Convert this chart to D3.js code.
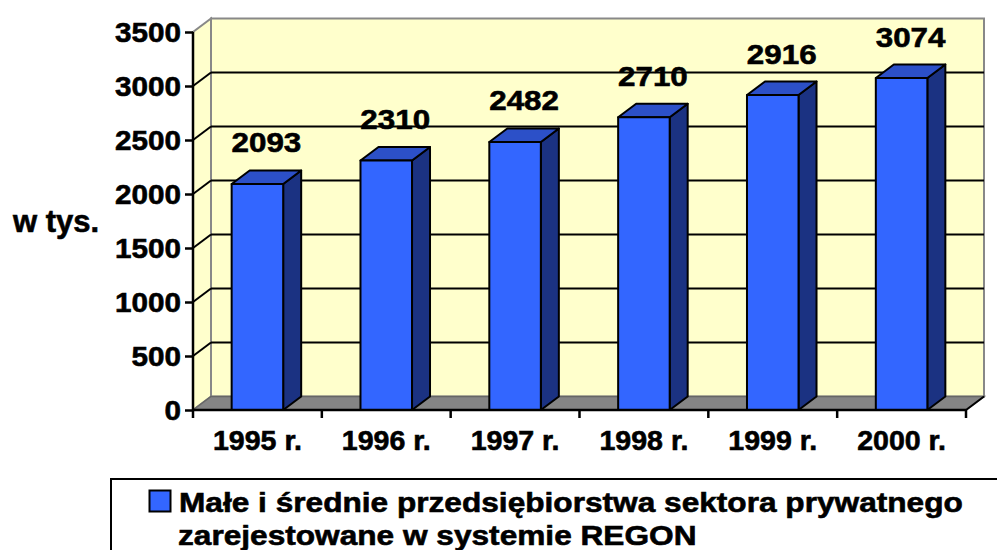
<!DOCTYPE html>
<html><head><meta charset="utf-8">
<script src="https://cdn.jsdelivr.net/npm/d3@7"></script>
<style>body{margin:0;background:#fff}svg{display:block}text{font-family:"Liberation Sans",Arial,sans-serif;font-weight:bold;fill:#000;stroke:#000;stroke-width:0.6px}</style>
</head><body><svg id="c" width="997" height="550"></svg>
<script>
const categories = ["1995 r.","1996 r.","1997 r.","1998 r.","1999 r.","2000 r."];
const values = [2093, 2310, 2482, 2710, 2916, 3074];
const yTicks = [0,500,1000,1500,2000,2500,3000,3500];
const yLabel = "w tys.";
const legendLines = ["Małe i średnie przedsiębiorstwa sektora prywatnego","zarejestowane w systemie REGON"];

const svg = d3.select("#c");
const L = 193, R = 966, B = 410, T = 32, DX = 18, DY = -13.5;
const x = d3.scaleBand().domain(categories).range([L, R]).padding(0);
const y = d3.scaleLinear().domain([0, 3500]).range([B, T]);
const yellow = "#FFFFCC";

// back wall
svg.append("rect").attr("x", L+DX).attr("y", T+DY).attr("width", R-L).attr("height", B-T)
  .attr("fill", yellow).attr("stroke", "#888").attr("stroke-width", 2);
// left wall
svg.append("polygon").attr("points", [[L,B],[L+DX,B+DY],[L+DX,T+DY],[L,T]].map(p=>p.join(",")).join(" "))
  .attr("fill", yellow).attr("stroke", "#888").attr("stroke-width", 2);
// floor
svg.append("polygon").attr("points", [[L,B],[R,B],[R+DX,B+DY],[L+DX,B+DY]].map(p=>p.join(",")).join(" "))
  .attr("fill", "#858585").attr("stroke", "#666").attr("stroke-width", 1.5);

// gridlines
const grid = yTicks.filter(v => v > 0 && v < 3500);
svg.append("g").selectAll("line.g").data(grid).join("line")
  .attr("x1", L+DX).attr("x2", R+DX).attr("y1", d => y(d)+DY).attr("y2", d => y(d)+DY)
  .attr("stroke", "#000").attr("stroke-width", 2);
svg.append("g").selectAll("line.d").data(grid).join("line")
  .attr("x1", L).attr("x2", L+DX).attr("y1", d => y(d)).attr("y2", d => y(d)+DY)
  .attr("stroke", "#000").attr("stroke-width", 2);

// axes
const yAxis = d3.axisLeft(y).tickValues(yTicks).tickSize(8).tickFormat("");
const gy = svg.append("g").attr("transform", `translate(${L},0)`).call(yAxis);
gy.selectAll("path,line").attr("stroke", "#000").attr("stroke-width", 2.5);
gy.select("path").attr("d", `M0,${T}V${B}`);

svg.append("line").attr("x1", R).attr("y1", B).attr("x2", R+DX).attr("y2", B+DY).attr("stroke","#000").attr("stroke-width",2);

// bars
const bw = x.bandwidth()*0.4;
const gb = svg.append("g");
values.forEach((v, i) => {
  const x0 = x(categories[i]) + (x.bandwidth()-bw)/2, x1 = x0 + bw, yt = y(v);
  const g = gb.append("g").attr("stroke", "#000").attr("stroke-width", 2).attr("stroke-linejoin","round");
  g.append("polygon").attr("points", `${x1},${B} ${x1+DX},${B+DY} ${x1+DX},${yt+DY} ${x1},${yt}`).attr("fill", "#1B3282");
  g.append("polygon").attr("points", `${x0},${yt} ${x0+DX},${yt+DY} ${x1+DX},${yt+DY} ${x1},${yt}`).attr("fill", "#2C50C8");
  g.append("rect").attr("x", x0).attr("y", yt).attr("width", bw).attr("height", B-yt).attr("fill", "#3366FF");
});

// x axis line + ticks
const xAxis = d3.axisBottom(x).tickSize(0).tickFormat("");
const gx = svg.append("g").attr("transform", `translate(0,${B})`).call(xAxis);
gx.select("path").attr("stroke","#000").attr("stroke-width",2.5).attr("d", `M${L},0H${R}`);
const bounds = categories.map(c => x(c)).concat([R]);
gx.selectAll("line.t").data(bounds).join("line").attr("class","t")
  .attr("x1", d=>d).attr("x2", d=>d).attr("y1", 0).attr("y2", 8).attr("stroke","#000").attr("stroke-width",2.5);

function txt(px, py, s, size, anchor, sx) {
  const g = svg.append("g").attr("transform", `translate(${px},${py}) scale(${sx||1},1)`);
  g.append("text").attr("font-size", size).attr("text-anchor", anchor).text(s);
}
// y tick labels
yTicks.forEach(v => txt(181, y(v)+10, String(v), 28, "end", 1.06));
// x labels
categories.forEach(c => txt(x(c)+x.bandwidth()/2, 450, c, 28, "middle", 1.02));
// value labels
values.forEach((v,i) => txt(x(categories[i])+x.bandwidth()/2+DX/2, y(v)+DY-18, String(v), 28, "middle", 1.12));
// y label
txt(13, 232, yLabel, 31, "start", 1);

// legend
svg.append("rect").attr("x", 111).attr("y", 479).attr("width", 1000).attr("height", 200)
  .attr("fill", "#fff").attr("stroke", "#000").attr("stroke-width", 2);
svg.append("rect").attr("x", 149.5).attr("y", 490.5).attr("width", 21).attr("height", 21)
  .attr("fill", "#3366FF").attr("stroke", "#000").attr("stroke-width", 2);
txt(179, 512, legendLines[0], 28, "start", 1.13);
txt(178, 545, legendLines[1], 28, "start", 1.13);
</script></body></html>
